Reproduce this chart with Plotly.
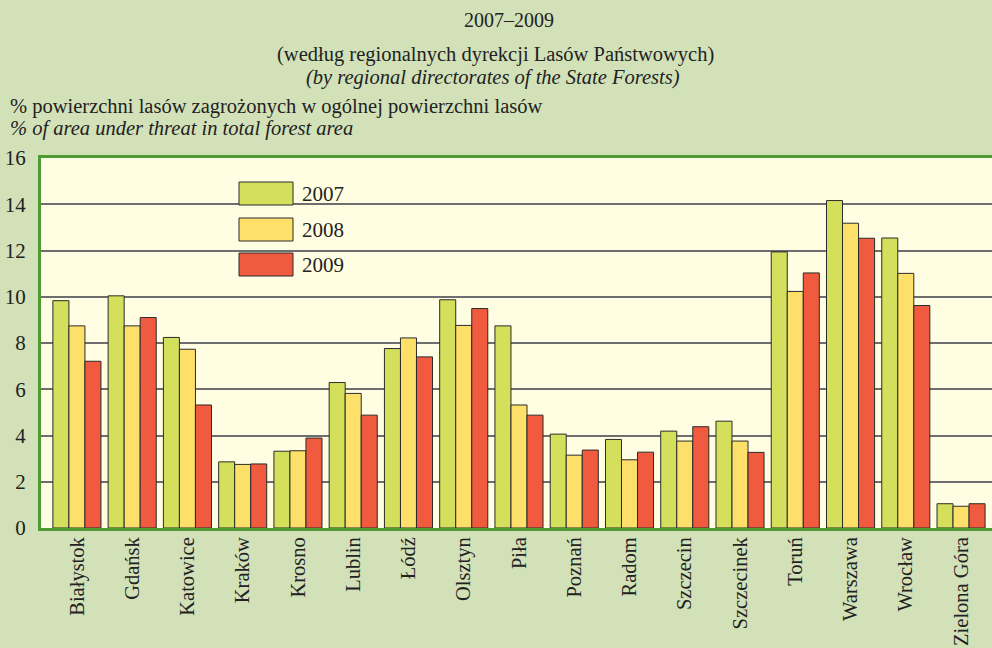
import plotly.graph_objects as go

# ---- data ----
regions = ["Białystok", "Gdańsk", "Katowice", "Kraków", "Krosno", "Lublin", "Łódź",
           "Olsztyn", "Piła", "Poznań", "Radom", "Szczecin", "Szczecinek", "Toruń",
           "Warszawa", "Wrocław", "Zielona Góra"]
years = ["2007", "2008", "2009"]
v2007 = [9.83, 10.04, 8.24, 2.86, 3.32, 6.29, 7.76, 9.87, 8.74, 4.06, 3.83, 4.19, 4.62, 11.94, 14.16, 12.54, 1.05]
v2008 = [8.74, 8.74, 7.73, 2.75, 3.34, 5.82, 8.22, 8.76, 5.32, 3.15, 2.95, 3.76, 3.76, 10.23, 13.18, 11.01, 0.94]
v2009 = [7.21, 9.10, 5.32, 2.77, 3.89, 4.88, 7.40, 9.49, 4.88, 3.37, 3.28, 4.38, 3.27, 11.03, 12.53, 9.62, 1.05]
y_ticks = [0, 2, 4, 6, 8, 10, 12, 14, 16]

series = [v2007, v2008, v2009]
colors = ["#d4e05c", "#fde06a", "#f05a3e"]

# ---- layout geometry ----
W, H = 992, 648
ML, MR, MT, MB = 41, 0, 158, 120
PW = W - ML - MR
PH = H - MT - MB

def px(x):
    return (x - ML) / PW

def py(y):
    return (H - MB - y) / PH

FONT = "Liberation Serif"
BG = "#d2e1b8"
PLOT_BG = "#fffde2"
FRAME = "#4f9a32"
TXT = "#222222"

fig = go.Figure()
for name, vals, col in zip(years, series, colors):
    fig.add_trace(go.Bar(
        x=regions, y=vals, name=name,
        marker=dict(color=col, line=dict(color="#2b2b2b", width=1)),
        showlegend=False,
    ))

shapes = []
annotations = []

# legend box (covers gridlines)
shapes.append(dict(type="rect", xref="paper", yref="paper",
                   x0=px(213), x1=px(372), y0=py(287), y1=py(174),
                   fillcolor=PLOT_BG, line=dict(width=0), layer="between"))
sw_top = [182, 218, 253]
for name, col, t in zip(years, colors, sw_top):
    shapes.append(dict(type="rect", xref="paper", yref="paper",
                       x0=px(239), x1=px(293), y0=py(t + 23), y1=py(t),
                       fillcolor=col, line=dict(color="#2b2b2b", width=1), layer="above"))
    annotations.append(dict(text=name, xref="paper", yref="paper",
                            x=px(301), y=py(t + 12), xanchor="left", yanchor="middle",
                            showarrow=False, borderpad=0,
                            font=dict(family=FONT, size=21, color=TXT)))

# titles
title_lines = [
    ("2007–2009", 509, 20, 20),
    ("(według regionalnych dyrekcji Lasów Państwowych)", 495, 54, 20.5),
    ("<i>(by regional directorates of the State Forests)</i>", 493, 77, 20.5),
]
for txt, xc, yc, fs in title_lines:
    annotations.append(dict(text=txt, xref="paper", yref="paper", x=px(xc), y=py(yc),
                            xanchor="center", yanchor="middle", showarrow=False, borderpad=0,
                            font=dict(family=FONT, size=fs, color=TXT)))

axis_title = [
    ("% powierzchni lasów zagrożonych w ogólnej powierzchni lasów", 106),
    ("<i>% of area under threat in total forest area</i>", 129),
]
for txt, yc in axis_title:
    annotations.append(dict(text=txt, xref="paper", yref="paper", x=px(9), y=py(yc),
                            xanchor="left", yanchor="middle", showarrow=False, borderpad=0,
                            font=dict(family=FONT, size=20.5, color=TXT)))

fig.update_layout(
    width=W, height=H, autosize=False,
    margin=dict(l=ML, r=MR, t=MT, b=MB, pad=0),
    paper_bgcolor=BG, plot_bgcolor=PLOT_BG,
    barmode="group", bargap=0.13, bargroupgap=0,
    font=dict(family=FONT, color=TXT),
    shapes=shapes, annotations=annotations,
    showlegend=False,
)
fig.update_xaxes(
    type="category", range=[-0.65, 16.56], tickangle=-90,
    tickfont=dict(family=FONT, size=20.5, color=TXT),
    showline=True, linecolor=FRAME, linewidth=3, mirror=True,
    ticks="", automargin=False, showgrid=False, ticklabelstandoff=-2,
)
fig.update_yaxes(
    range=[0, 16], tickvals=y_ticks,
    tickfont=dict(family=FONT, size=21, color=TXT),
    showgrid=True, gridcolor="#6e6e6e", gridwidth=1.5,
    showline=True, linecolor=FRAME, linewidth=3, mirror=True,
    zeroline=False, ticks="", automargin=False, ticklabelstandoff=8,
)

fig.write_html("out.html", config={"displayModeBar": False},
               post_script="document.body.style.margin='0';")
